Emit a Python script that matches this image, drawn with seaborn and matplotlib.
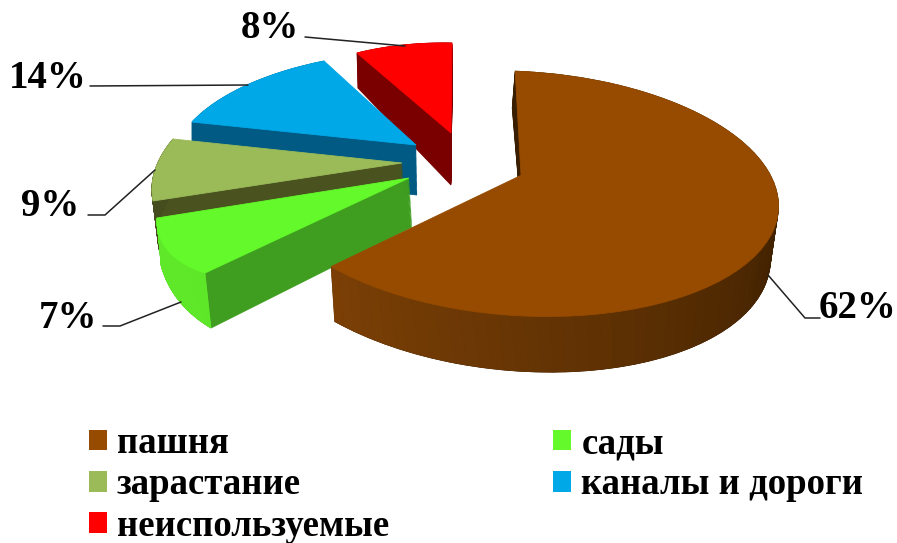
import numpy as np
import matplotlib
matplotlib.use("Agg")
import matplotlib.pyplot as plt
import seaborn as sns
from matplotlib.transforms import Transform
from matplotlib.patches import Patch
from matplotlib.collections import PolyCollection
from matplotlib.colors import to_rgb

# ---- data ----
categories = ["пашня", "сады", "зарастание", "каналы и дороги", "неиспользуемые"]
values = [62, 7, 9, 14, 8]
labels = ["62%", "7%", "9%", "14%", "8%"]
top_colors = ["#964B00", "#63F92A", "#9BBB59", "#00A8E8", "#FF0000"]
cut_colors = ["#3A1E02", "#3F9E20", "#4A5320", "#005A84", "#7A0000"]
rim_colors = [("#3A1E00", "#7C4006"), ("#5FE82A", "#5FE82A"), ("#454D1E", "#454D1E"),
              ("#005A84", "#005A84"), ("#7A0000", "#7A0000")]

# ---- 3D projection of each exploded slice (pixels): anchor fractions along the
# slice's arc (0 = clockwise start, 1 = end) -> top face / bottom face ----
proj = {
    0: dict(z=50, frac=[0, 90 / 223.2, 180 / 223.2, 1],
            apex=(521, 175), arc=[(515, 72), (775, 187), (528, 314), (332, 271)],
            apex_b=(522, 226), arc_b=[(513, 108), (768, 241), (535, 371), (335, 323)]),
    1: dict(z=40, frac=[0, .5, 1],
            apex=(409, 178), arc=[(205, 273), (170, 253), (157, 218)],
            apex_b=(412, 227), arc_b=[(211, 328), (180, 302), (161, 265)]),
    2: dict(z=30, frac=[0, .5, 1],
            apex=(402, 163), arc=[(153, 201), (155, 170), (173, 139)],
            apex_b=(405, 215), arc_b=[(160, 253), (160, 220), (177, 187)]),
    3: dict(z=20, frac=[0, .5, 1],
            apex=(416, 145), arc=[(192, 122), (247, 85), (324, 61)],
            apex_b=(417, 195), arc_b=[(192, 170), (248, 133), (326, 108)]),
    4: dict(z=10, frac=[0, .5, 1],
            apex=(451, 133), arc=[(357, 53), (403, 45), (452, 43)],
            apex_b=(451, 185), arc_b=[(358, 88), (404, 82), (452, 90)]),
}
label_pos = [(857, 308), (68, 318), (50, 206), (48, 79), (270, 28)]
leaders = [
    [(768, 275), (805, 318), (820, 318)],
    [(103, 326), (120, 326), (181, 302)],
    [(88, 215), (105, 215), (155, 170)],
    [(90, 86), (248, 85)],
    [(305, 37), (405, 46)],
]


class Homography(Transform):
    input_dims = 2
    output_dims = 2

    def __init__(self, M):
        super().__init__()
        self.M = M

    def transform_non_affine(self, v):
        v = np.asarray(v, float)
        p = np.c_[v, np.ones(len(v))] @ self.M.T
        return p[:, :2] / p[:, 2:]


def fit(src, dst):
    rows = []
    for n, ((x, y), (u, v)) in enumerate(zip(src, dst)):
        wt = 4.0 if n == 0 else 1.0   # keep the apex exact
        rows.append([wt * c for c in (x, y, 1, 0, 0, 0, -u * x, -u * y, -u)])
        rows.append([wt * c for c in (0, 0, 0, x, y, 1, -v * x, -v * y, -v)])
    return np.linalg.svd(np.array(rows))[2][-1].reshape(3, 3)


sns.set_theme(style="white")
plt.rcParams["font.family"] = ["Liberation Serif", "DejaVu Serif"]
fig = plt.figure(figsize=(8.97, 5.43), dpi=100)
ax = fig.add_axes([0, 0, 1, 1])
palette = sns.color_palette(top_colors)

# slice angles (clockwise from 12 o'clock), same as the pie itself
fr = np.array(values, float) / sum(values)
edges = 90 - 360 * np.concatenate([[0], np.cumsum(fr)])


def unit(a):
    a = np.radians(a)
    return np.c_[np.cos(a), np.sin(a)]


src, dst_t, dst_b = {}, {}, {}
for i, p in proj.items():
    ang = edges[i] + (edges[i + 1] - edges[i]) * np.array(p["frac"])
    src[i] = np.vstack([[0, 0], unit(ang)])
    dst_t[i] = np.array([p["apex"]] + p["arc"], float)
    dst_b[i] = np.array([p["apex_b"]] + p["arc_b"], float)

# extruded layers (bottom -> top), each is a real pie of the values
ts = np.linspace(1, 0, 45)
for k, t in enumerate(ts):
    colors = top_colors if k == len(ts) - 1 else cut_colors
    wedges, _ = ax.pie(values, colors=colors, startangle=90, counterclock=False,
                       wedgeprops=dict(linewidth=0.6))
    for i, w in enumerate(wedges):
        M = fit(src[i], dst_t[i] * (1 - t) + dst_b[i] * t)
        w.set_transform(Homography(M) + ax.transData)
        w.set_edgecolor(colors[i])
        w.set_zorder(proj[i]["z"] + (9 if k == len(ts) - 1 else 4 * k / len(ts)))

ax.set_aspect("auto")
ax.set_xlim(0, 897)
ax.set_ylim(543, 0)
ax.axis("off")

# outer rim of each slice
for i, p in proj.items():
    Mt, Mb = fit(src[i], dst_t[i]), fit(src[i], dst_b[i])
    a = np.linspace(edges[i], edges[i + 1], 91)
    T = Homography(Mt).transform_non_affine(unit(a))
    B = Homography(Mb).transform_non_affine(unit(a))
    polys = [np.array([T[j], T[j + 1], B[j + 1], B[j]]) for j in range(len(a) - 1)]
    c0, c1 = np.array(to_rgb(rim_colors[i][0])), np.array(to_rgb(rim_colors[i][1]))
    s = np.clip((0 - a[:-1]) / (0 - edges[i + 1]), 0, 1)[:, None]
    cols = c0 * (1 - s) + c1 * s
    ax.add_collection(PolyCollection(polys, facecolors=cols, edgecolors=cols,
                                     linewidths=0.5, zorder=p["z"] + 5))

# percentage labels + leader lines
for lab, pos, ln in zip(labels, label_pos, leaders):
    ax.text(pos[0], pos[1], lab, fontsize=28, fontweight="bold", color="black",
            ha="center", va="center", zorder=100)
    xs, ys = zip(*ln)
    ax.plot(xs, ys, color="#222222", lw=1.1, zorder=100)

# legend, filled row-wise as in the original
order = [0, 2, 4, 1, 3]
handles = [Patch(facecolor=palette[i], edgecolor="none") for i in order]
leg = fig.legend(handles, [categories[i] for i in order], ncol=2, frameon=False,
                 loc="upper left", bbox_to_anchor=(89 / 897, 1 - 426 / 543),
                 prop=dict(size=26.5, weight="bold"), labelcolor="black",
                 borderpad=0, borderaxespad=0,
                 handlelength=0.49, handleheight=0.49, handletextpad=0.27,
                 labelspacing=0.17, columnspacing=4.46)

fig.savefig("out.png", dpi=100, facecolor="white")
